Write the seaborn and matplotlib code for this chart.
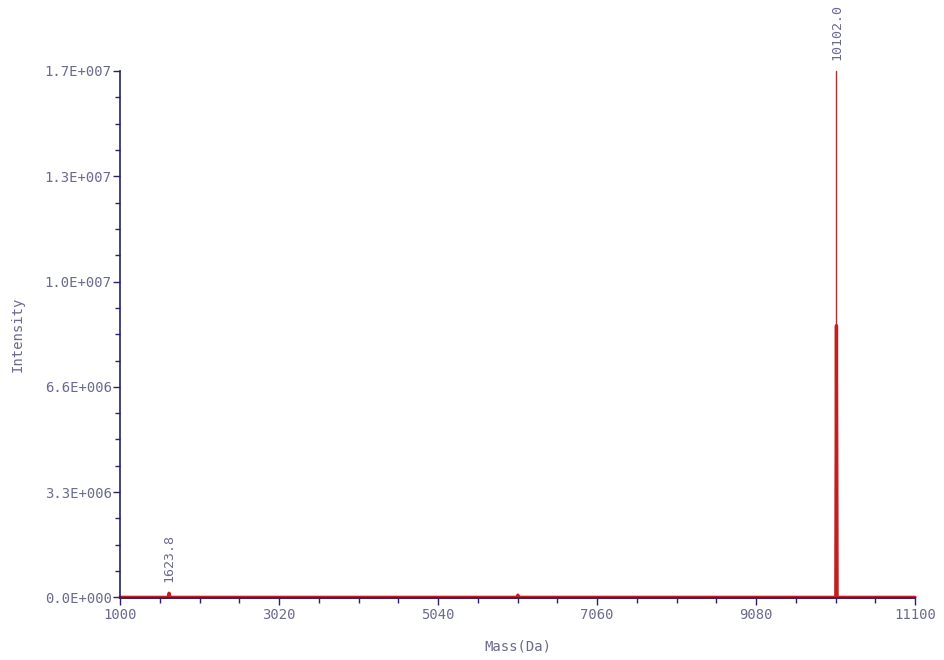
import numpy as np
import pandas as pd
import matplotlib
matplotlib.use("Agg")
import matplotlib.pyplot as plt
import seaborn as sns
from matplotlib.ticker import FixedLocator, AutoMinorLocator, FuncFormatter

# ---- data ----
# processed (red) trace: baseline with peaks
red_mass = [1000.0, 1612.0, 1623.8, 1636.0, 6045.0, 6055.0, 6065.0, 10094.0, 10102.0, 10110.0, 11100.0]
red_int = [0.0, 0.0, 1.3e5, 0.0, 0.0, 7.0e4, 0.0, 0.0, 8.57e6, 0.0, 0.0]
# raw (thin) trace peak apex
raw_mass = [10102.0, 10102.0]
raw_int = [0.0, 1.66e7]
# peak labels
label_mass = [1623.8, 10102.0]
label_int = [1.3e5, 1.66e7]
label_text = ["1623.8", "10102.0"]
x_ticks = [1000, 3020, 5040, 7060, 9080, 11100]
y_ticks = [0.0, 3.32e6, 6.64e6, 9.96e6, 1.328e7, 1.66e7]

AXIS = "#23236e"
TXT = "#6a6a8e"
RED = "#c41e1e"
THIN = "#a83232"

sns.set_theme(style="white")
plt.rcParams["font.family"] = ["DejaVu Sans Mono", "DejaVu Sans"]

fig = plt.figure(figsize=(9.44, 6.6), dpi=100)
ax = fig.add_axes([120 / 944, 1 - 598 / 660, 795 / 944, 527 / 660])

df_raw = pd.DataFrame({"mass": raw_mass, "intensity": raw_int})
df_red = pd.DataFrame({"mass": red_mass, "intensity": red_int})

sns.lineplot(data=df_raw, x="mass", y="intensity", ax=ax, color=THIN, lw=1.0,
             estimator=None, sort=False, clip_on=False)
sns.lineplot(data=df_red, x="mass", y="intensity", ax=ax, color=RED, lw=2.4,
             estimator=None, sort=False, clip_on=False)

ax.set_xlim(1000, 11100)
ax.set_ylim(-0.02e6, 1.66e7)

for m, h, t in zip(label_mass, label_int, label_text):
    ax.annotate(t, xy=(m, h), xytext=(0, 8), textcoords="offset points",
                rotation=90, ha="center", va="bottom", fontsize=9.5, color=TXT,
                annotation_clip=False)

def sci(v, pos=None):
    if v == 0:
        return "0.0E+000"
    e = int(np.floor(np.log10(abs(v))))
    m = v / 10 ** e
    if round(m, 1) >= 10:
        m /= 10
        e += 1
    return f"{m:.1f}E{'+' if e >= 0 else '-'}{abs(e):03d}"

ax.yaxis.set_major_locator(FixedLocator(y_ticks))
ax.yaxis.set_major_formatter(FuncFormatter(sci))
ax.yaxis.set_minor_locator(AutoMinorLocator(4))
ax.xaxis.set_major_locator(FixedLocator(x_ticks))
ax.xaxis.set_minor_locator(AutoMinorLocator(4))

ax.tick_params(axis="both", which="major", direction="out", color=AXIS,
               labelcolor=TXT, labelsize=10, width=1, length=5, pad=2)
ax.tick_params(axis="both", which="minor", direction="out", color=AXIS,
               width=1, length=3.5)
ax.tick_params(axis="x", which="both", bottom=True)
ax.tick_params(axis="y", which="both", left=True)
ax.tick_params(axis="y", which="major", pad=1)

for s in ["top", "right"]:
    ax.spines[s].set_visible(False)
for s in ["left", "bottom"]:
    ax.spines[s].set_color(AXIS)
    ax.spines[s].set_linewidth(1.2)

ax.set_xlabel("Mass(Da)", color=TXT, fontsize=10)
ax.set_ylabel("Intensity", color=TXT, fontsize=10)
ax.xaxis.set_label_coords(0.5, -0.078)
ax.yaxis.set_label_coords(-0.12, 0.5)
ax.grid(False)

fig.savefig("out.png", dpi=100)
